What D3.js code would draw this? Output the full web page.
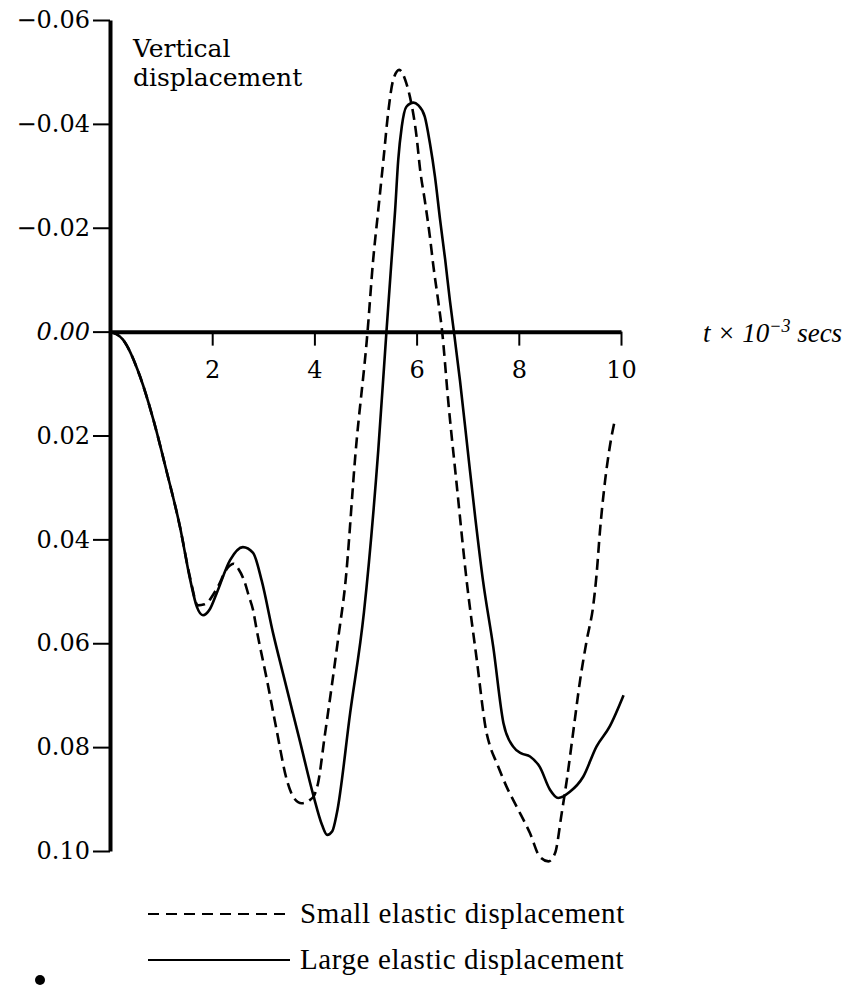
<!DOCTYPE html>
<html>
<head>
<meta charset="utf-8">
<script src="https://cdn.jsdelivr.net/npm/d3@7"></script>
<style>
  body { margin: 0; background: #fff; }
  svg { display: block; }
</style>
</head>
<body>
<svg id="chart" width="859" height="992"></svg>
<script>
// time in units of 10^-3 s, vertical displacement (positive plotted downwards)
const largeT = [0, 0.25, 0.59, 0.85, 1.1, 1.37, 1.57, 1.7, 1.82, 1.95, 2.09, 2.35, 2.6, 2.8, 2.97,
  3.19, 3.39, 3.72, 3.98, 4.15, 4.25, 4.35, 4.44, 4.7, 4.97, 5.25, 5.41, 5.51, 5.58, 5.64,
  5.71, 5.8, 5.94, 6.03, 6.16, 6.26, 6.36, 6.46, 6.56, 6.65, 6.73, 6.85, 7.0, 7.15, 7.3,
  7.5, 7.7, 7.89, 8.05, 8.22, 8.41, 8.61, 8.77, 9.0, 9.26, 9.52, 9.78, 10.05]
const largeV = [0, 0.0015, 0.0087, 0.017, 0.0266, 0.0376, 0.0478, 0.053, 0.0546, 0.0535, 0.0503, 0.044, 0.0415, 0.0426, 0.048,
  0.058, 0.066, 0.079, 0.0893, 0.095, 0.0969, 0.0962, 0.0927, 0.0734, 0.054, 0.0228, 0, -0.0138, -0.0234, -0.033,
  -0.0395, -0.0433, -0.0441, -0.0436, -0.0414, -0.0363, -0.0298, -0.0215, -0.0138, -0.0061, 0, 0.0095, 0.0228, 0.036, 0.048,
  0.0607, 0.0754, 0.0799, 0.0812, 0.0818, 0.0838, 0.0882, 0.0898, 0.0886, 0.0857, 0.0799, 0.076, 0.070]

const smallT = [0, 0.25, 0.59, 0.85, 1.1, 1.37, 1.57, 1.72, 1.85, 2.09, 2.3, 2.42, 2.52, 2.62, 2.72,
  2.8, 2.87, 3.07, 3.26, 3.46, 3.6, 3.75, 3.91, 4.0, 4.07, 4.2, 4.35, 4.48, 4.6, 4.81,
  5.04, 5.15, 5.25, 5.35, 5.45, 5.54, 5.66, 5.8, 5.87, 6.0, 6.07, 6.16, 6.26, 6.33, 6.42,
  6.5, 6.62, 6.78, 6.98, 7.17, 7.37, 7.44, 7.57, 7.76, 7.96, 8.22, 8.41, 8.58, 8.71, 8.84,
  8.94, 9.07, 9.2, 9.33, 9.46, 9.52, 9.59, 9.69, 9.78, 9.88]
const smallV = [0, 0.0015, 0.0087, 0.017, 0.0266, 0.0376, 0.0475, 0.0527, 0.0525, 0.0495, 0.0455, 0.0447, 0.0458, 0.0478, 0.051,
  0.0536, 0.0574, 0.067, 0.0767, 0.0863, 0.0898, 0.0908, 0.0902, 0.0892, 0.087, 0.078, 0.0675, 0.058, 0.049, 0.0228,
  0, -0.0138, -0.0234, -0.033, -0.0427, -0.0484, -0.0504, -0.0478, -0.0452, -0.0375, -0.0311, -0.0253, -0.0183, -0.0125, -0.0061,
  0, 0.0135, 0.029, 0.048, 0.0626, 0.0773, 0.0799, 0.0831, 0.0876, 0.0915, 0.0966, 0.1011, 0.102, 0.1004, 0.0927,
  0.0863, 0.0767, 0.0671, 0.0594, 0.0525, 0.047, 0.0382, 0.0286, 0.0222, 0.017]

const xTicks = [2, 4, 6, 8, 10]
const yTicks = [-0.06, -0.04, -0.02, 0, 0.02, 0.04, 0.06, 0.08, 0.10]
const legendLabels = ['Small elastic displacement', 'Large elastic displacement']

const svg = d3.select('#chart')
const xScale = d3.scaleLinear().domain([0, 10]).range([110, 621])
const yScale = d3.scaleLinear().domain([-0.06, 0.10]).range([20, 851])

const tickFont = '"DejaVu Serif", serif'

// y axis
const yAxis = d3.axisLeft(yScale)
  .tickValues(yTicks)
  .tickSize(17)
  .tickSizeOuter(0)
  .tickPadding(3)
  .tickFormat(d3.format('.2f'))

const gy = svg.append('g')
  .attr('transform', `translate(${xScale(0)},0)`)
  .call(yAxis)
gy.select('.domain').attr('stroke', '#000').attr('stroke-width', 4)
gy.selectAll('.tick line').attr('stroke', '#000').attr('stroke-width', 2)
gy.selectAll('.tick text')
  .style('font-family', tickFont)
  .style('font-size', '24px')
  .attr('fill', '#000')
  .style('font-style', d => d === 0 ? 'italic' : 'normal')

// x axis along zero
const xAxis = d3.axisBottom(xScale)
  .tickValues(xTicks)
  .tickSize(14)
  .tickSizeOuter(0)
  .tickPadding(15)

const gx = svg.append('g')
  .attr('transform', `translate(0,${yScale(0)})`)
  .call(xAxis)
gx.select('.domain').attr('stroke', '#000').attr('stroke-width', 4)
gx.selectAll('.tick line').attr('stroke', '#000').attr('stroke-width', 2)
gx.selectAll('.tick text')
  .style('font-family', tickFont)
  .style('font-size', '24px')
  .attr('fill', '#000')

// curves
const line = d3.line()
  .x(d => xScale(d[0]))
  .y(d => yScale(d[1]))
  .curve(d3.curveMonotoneX)

svg.append('path')
  .datum(d3.zip(largeT, largeV))
  .attr('d', line)
  .attr('fill', 'none')
  .attr('stroke', '#000')
  .attr('stroke-width', 2.6)

svg.append('path')
  .datum(d3.zip(smallT, smallV))
  .attr('d', line)
  .attr('fill', 'none')
  .attr('stroke', '#000')
  .attr('stroke-width', 2.6)
  .attr('stroke-dasharray', '11,6')

// axis titles
svg.append('text')
  .attr('x', 133).attr('y', 57)
  .style('font-family', tickFont).style('font-size', '25px')
  .text('Vertical')
svg.append('text')
  .attr('x', 133).attr('y', 86)
  .style('font-family', tickFont).style('font-size', '25px')
  .text('displacement')

const xt = svg.append('text')
  .attr('x', 703).attr('y', 342)
  .style('font-family', '"Liberation Serif", serif')
  .style('font-size', '27px')
  .style('font-style', 'italic')
xt.append('tspan').text('t × 10')
xt.append('tspan').attr('dy', -10).style('font-size', '18px').text('−3')
xt.append('tspan').attr('dy', 10).text(' secs')

// legend
const legend = svg.selectAll('g.legend')
  .data(legendLabels)
  .enter().append('g')
  .attr('class', 'legend')
  .attr('transform', (d, i) => `translate(148,${914 + i * 46})`)

legend.append('line')
  .attr('x1', 0).attr('x2', 142)
  .attr('stroke', '#000')
  .attr('stroke-width', 2)
  .attr('stroke-dasharray', (d, i) => i === 0 ? '11,7' : null)

legend.append('text')
  .attr('x', 152).attr('y', 9)
  .style('font-family', '"Liberation Serif", serif')
  .style('font-size', '29px')
  .style('letter-spacing', '0.6px')
  .text(d => d)

// stray printing dot
svg.append('circle').attr('cx', 40).attr('cy', 980).attr('r', 5).attr('fill', '#000')
</script>
</body>
</html>
